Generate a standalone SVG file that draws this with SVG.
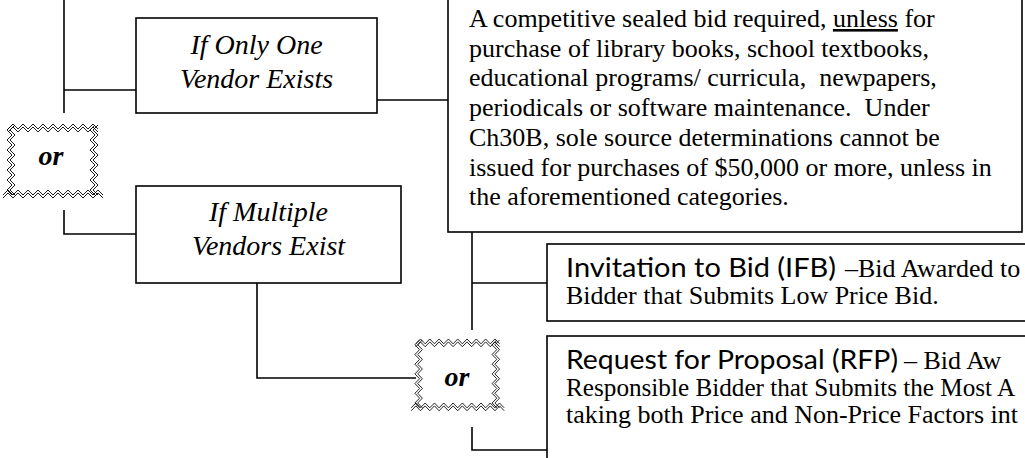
<svg xmlns="http://www.w3.org/2000/svg" xmlns:xlink="http://www.w3.org/1999/xlink" width="1025" height="458" viewBox="0 0 1025 458">
<style>
.box{fill:#fff;stroke:#000;stroke-width:1.6}
.ln{fill:none;stroke:#000;stroke-width:1.6}
.zz{fill:none;stroke:#000;stroke-width:0.9}
.nt{font-family:"Liberation Serif","Times New Roman",serif;font-style:italic;font-size:28px;text-anchor:middle;fill:#000}
.or{font-family:"Liberation Serif","Times New Roman",serif;font-style:italic;font-weight:bold;font-size:28px;text-anchor:middle;fill:#000}
.bt{font-family:"Liberation Serif","Times New Roman",serif;font-size:26px;fill:#000;white-space:pre}
.sn{font-family:Lato,"Open Sans",sans-serif;font-size:27.5px;fill:#000}
</style>
<defs>
<g id="zigframe">
<rect x="3" y="3" width="88" height="68" fill="#fff"/>
<path class="zz" d="M2,6 l5-5 5 5 5-5 5 5 5-5 5 5 5-5 5 5 5-5 5 5 5-5 5 5 5-5 5 5 5-5 5 5 5-5 5 5"/>
<path class="zz" d="M2,9 l5-5 5 5 5-5 5 5 5-5 5 5 5-5 5 5 5-5 5 5 5-5 5 5 5-5 5 5 5-5 5 5 5-5 5 5"/>
<path class="zz" d="M6,2 l-5 5 5 5 -5 5 5 5 -5 5 5 5 -5 5 5 5 -5 5 5 5 -5 5 5 5 -5 5 5 5"/>
<path class="zz" d="M9,2 l-5 5 5 5 -5 5 5 5 -5 5 5 5 -5 5 5 5 -5 5 5 5 -5 5 5 5 -5 5 5 5"/>
<path class="zz" d="M89,2 l-5 5 5 5 -5 5 5 5 -5 5 5 5 -5 5 5 5 -5 5 5 5 -5 5 5 5 -5 5 5 5"/>
<path class="zz" d="M92,2 l-5 5 5 5 -5 5 5 5 -5 5 5 5 -5 5 5 5 -5 5 5 5 -5 5 5 5 -5 5 5 5"/>
<path class="zz" d="M-3,72 l5-5 5 5 5-5 5 5 5-5 5 5 5-5 5 5 5-5 5 5 5-5 5 5 5-5 5 5 5-5 5 5 5-5 5 5 5-5 5 5"/>
<path class="zz" d="M-3,75 l5-5 5 5 5-5 5 5 5-5 5 5 5-5 5 5 5-5 5 5 5-5 5 5 5-5 5 5 5-5 5 5 5-5 5 5 5-5 5 5"/>
</g>
</defs>
<g id="connectors">
<path class="ln" d="M64,0 V113"/>
<path class="ln" d="M64,90 H136"/>
<path class="ln" d="M377,100 H448"/>
<path class="ln" d="M64,210 V234 H136"/>
<path class="ln" d="M257,283 V378 H416"/>
<path class="ln" d="M472,232 V330"/>
<path class="ln" d="M472,283 H547"/>
<path class="ln" d="M472,427 V450 H547"/>
</g>
<g id="node-one-vendor">
<rect class="box" x="136" y="18" width="241" height="95"/>
<text class="nt" x="256.5" y="54">If Only One</text>
<text class="nt" x="256.5" y="88">Vendor Exists</text>
</g>
<g id="node-multiple-vendors">
<rect class="box" x="136" y="186" width="265" height="97"/>
<text class="nt" x="268.5" y="221">If Multiple</text>
<text class="nt" x="268.5" y="255">Vendors Exist</text>
</g>
<g id="node-sealed-bid">
<rect class="box" x="448" y="-2" width="574" height="234"/>
<text class="bt" x="469" y="27">A competitive sealed bid required, <tspan text-decoration="underline">unless</tspan> for</text>
<text class="bt" x="469" y="56.7">purchase of library books, school textbooks,</text>
<text class="bt" x="469" y="86.4">educational programs/ curricula,  newpapers,</text>
<text class="bt" x="469" y="116">periodicals or software maintenance.  Under</text>
<text class="bt" x="469" y="145.8">Ch30B, sole source determinations cannot be</text>
<text class="bt" x="469" y="175.5">issued for purchases of $50,000 or more, unless in</text>
<text class="bt" x="469" y="205.2">the aforementioned categories.</text>
</g>
<g id="node-or-1">
<use xlink:href="#zigframe" transform="translate(6,123)"/>
<text class="or" x="51" y="165">or</text>
</g>
<g id="node-or-2">
<use xlink:href="#zigframe" transform="translate(414,338) scale(0.93,0.97)"/>
<text class="or" x="457" y="386">or</text>
</g>
<g id="node-ifb">
<rect class="box" x="547" y="244" width="500" height="77"/>
<text class="sn" x="566" y="277" textLength="270" lengthAdjust="spacingAndGlyphs">Invitation to Bid (IFB)</text>
<text class="bt" x="845" y="277">–Bid Awarded to</text>
<text class="bt" x="566" y="304">Bidder that Submits Low Price Bid.</text>
</g>
<g id="node-rfp">
<rect class="box" x="547" y="336" width="500" height="140"/>
<text class="sn" x="566" y="369" textLength="332" lengthAdjust="spacingAndGlyphs">Request for Proposal (RFP)</text>
<text class="bt" x="904" y="369">– Bid Aw</text>
<text class="bt" x="566" y="396" style="font-size:25.2px">Responsible Bidder that Submits the Most A</text>
<text class="bt" x="566" y="423">taking both Price and Non-Price Factors int</text>
</g>
</svg>
